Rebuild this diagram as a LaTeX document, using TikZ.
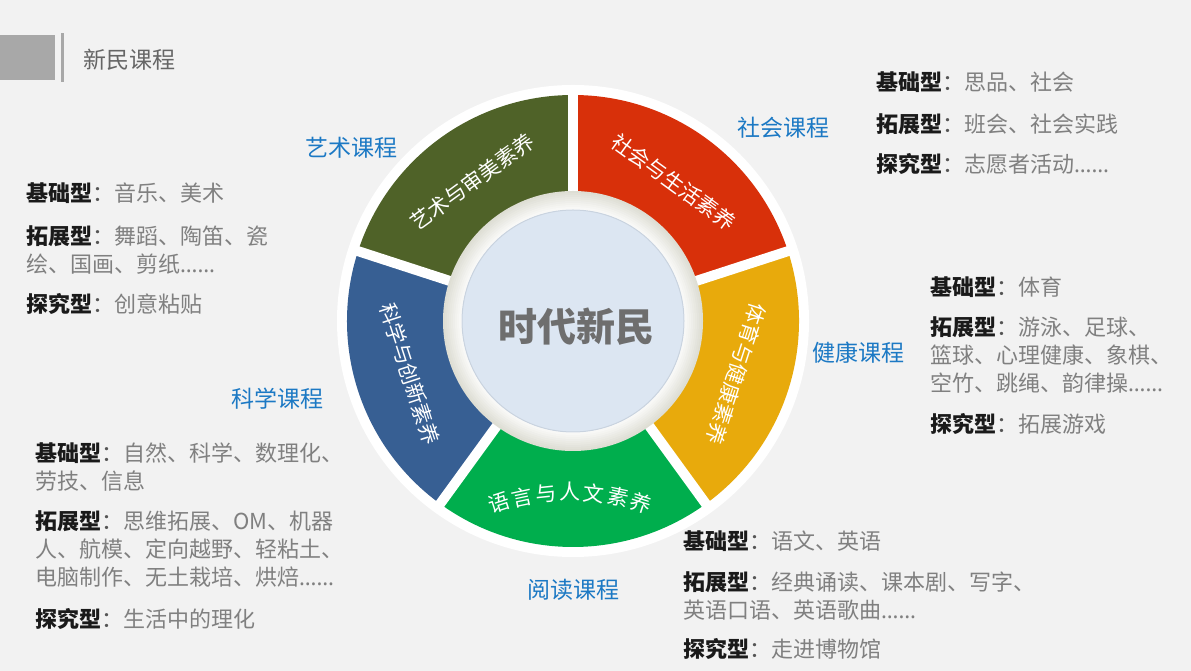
\documentclass[tikz,border=0pt]{standalone}
\usepackage{fontspec}
\newfontfamily\cjk{Noto Sans CJK SC}
\newfontfamily\latinfont{Noto Sans}
% colours
\definecolor{bg}{HTML}{F2F2F2}
\definecolor{hdrgray}{HTML}{A8A8A8}
\definecolor{hdrtext}{HTML}{666666}
\definecolor{artcol}{HTML}{4F6228}
\definecolor{soccol}{HTML}{D8300A}
\definecolor{hltcol}{HTML}{E8AA0C}
\definecolor{rdcol}{HTML}{00AE4D}
\definecolor{scicol}{HTML}{375F93}
\definecolor{ringgray}{HTML}{DEDED4}
\definecolor{core}{HTML}{DCE6F2}
\definecolor{coreedge}{HTML}{C9D3DF}
\definecolor{coretext}{HTML}{6E6E6E}
\definecolor{catblue}{HTML}{1C79C4}
\definecolor{labblack}{HTML}{1A1A1A}
\definecolor{txtgray}{HTML}{808080}
\definecolor{colongray}{HTML}{555555}
\newcommand\kind[1]{{\bfseries\color{labblack}#1}{\color{colongray}：}}
\newcommand\ellip{{\latinfont ……}}
\tikzset{
  cat/.style={font=\cjk\fontsize{23}{23}\selectfont, text=catblue},
  item/.style={anchor=north west, inner sep=0, align=left,
               font=\cjk\fontsize{22}{28}\selectfont, text=txtgray},
  segtext/.style={font=\cjk\fontsize{21}{21}\selectfont, text=white, inner sep=0},
}
\begin{document}
\begin{tikzpicture}[x=1pt,y=1pt]
% frame
\fill[bg] (0,0) rectangle (1191,671);
\useasboundingbox (0,0) rectangle (1191,671);
% coordinates
\coordinate (W) at (573,350);
% header
\fill[hdrgray] (0,591) rectangle (55,636);
\fill[hdrgray] (61,589) rectangle (64,638);
\node[anchor=west, font=\cjk\fontsize{23}{23}\selectfont, text=hdrtext] (title) at (80,611) {新民课程};
% wheel
\fill[white] (W) circle (236);
\begin{scope}[shift={(W)}]
\foreach \a/\c in {90/artcol, 18/soccol, -54/hltcol, -126/rdcol, 162/scicol}
  \fill[\c] (\a:226) arc[start angle=\a, end angle=\a+72, radius=226]
    -- ({\a+72}:128) arc[start angle=\a+72, end angle=\a, radius=128] -- cycle;
% gaps
\foreach \a in {90,18,-54,-126,162}
  \draw[white, line width=10] (\a:120) -- (\a:233);
% inner ring
\foreach \r [evaluate=\r as \p using int((\r-110)*5)] in {130,128,...,112}
  \fill[ringgray!\p!white] (0,0) circle (\r);
\fill[core] (0,0) circle (111);
\draw[coreedge, line width=1] (0,0) circle (111);
% segment texts
\node[segtext, rotate=36]   (artseg) at (126:172) {艺术与审美素养};
\node[segtext, rotate=-36]  (socseg) at (54:172)  {社会与生活素养};
\node[segtext, rotate=-108] (hltseg) at (-18:172) {体育与健康素养};
\node[segtext, rotate=-72]  (sciseg) at (198:172) {科学与创新素养};
\begin{scope}[shift={(-3,-402)}]
\foreach \ch [count=\i] in {语,言,与,人,文,素,养}
  \node[segtext, rotate={(4-\i)*6}] (rd\i) at ({90+(4-\i)*6}:231) {\ch};
\end{scope}
\end{scope}
\node[font=\cjk\bfseries\fontsize{39}{39}\selectfont, text=coretext] (core) at (576,344) {时代新民};
% course names
\node[cat] (art) at (351,523) {艺术课程};
\node[cat] (soc) at (783,543) {社会课程};
\node[cat] (hlt) at (858,318) {健康课程};
\node[cat] (sci) at (277,272) {科学课程};
\node[cat] (rd)  at (573,81)  {阅读课程};
% art
\node[item] (art1) at (26,489) {\kind{基础型}音乐、美术};
\node[item] (art2) at (26,446) {\kind{拓展型}舞蹈、陶笛、瓷\\绘、国画、剪纸\ellip};
\node[item] (art3) at (26,378) {\kind{探究型}创意粘贴};
% society
\node[item] (soc1) at (876,599) {\kind{基础型}思品、社会};
\node[item] (soc2) at (876,558) {\kind{拓展型}班会、社会实践};
\node[item] (soc3) at (876,518) {\kind{探究型}志愿者活动\ellip};
% health
\node[item] (hlt1) at (930,395) {\kind{基础型}体育};
\node[item] (hlt2) at (930,355) {\kind{拓展型}游泳、足球、\\篮球、心理健康、象棋、\\空竹、跳绳、韵律操\ellip};
\node[item] (hlt3) at (930,258) {\kind{探究型}拓展游戏};
% science
\node[item] (sci1) at (35,229) {\kind{基础型}自然、科学、数理化、\\劳技、信息};
\node[item] (sci2) at (35,161) {\kind{拓展型}思维拓展、OM、机器\\人、航模、定向越野、轻粘土、\\电脑制作、无土栽培、烘焙\ellip};
\node[item] (sci3) at (35,63)  {\kind{探究型}生活中的理化};
% reading
\node[item] (rd1) at (683,141) {\kind{基础型}语文、英语};
\node[item] (rd2) at (683,100) {\kind{拓展型}经典诵读、课本剧、写字、\\英语口语、英语歌曲\ellip};
\node[item] (rd3) at (683,33)  {\kind{探究型}走进博物馆};
\end{tikzpicture}
\end{document}
